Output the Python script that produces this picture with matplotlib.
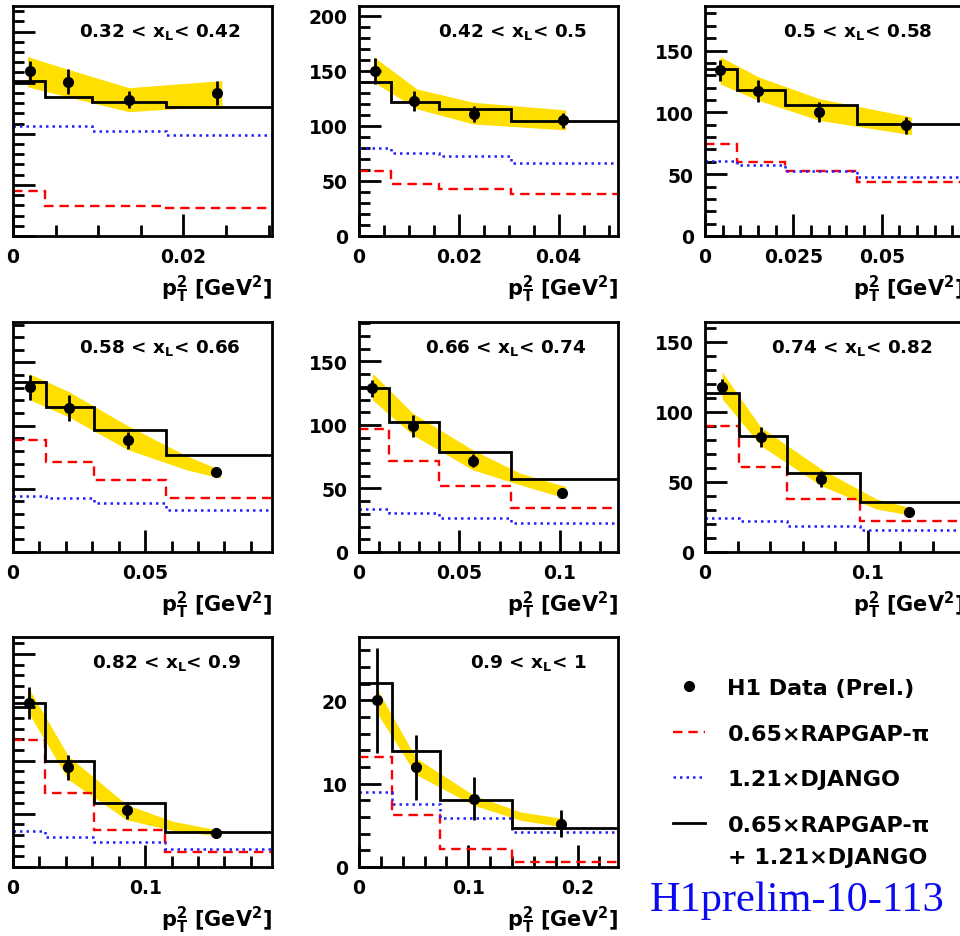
import matplotlib
matplotlib.use("Agg")
import matplotlib.pyplot as plt
from matplotlib.ticker import MultipleLocator, FuncFormatter
from matplotlib.lines import Line2D

plt.rcParams['font.family'] = ['DejaVu Sans']
plt.rcParams['font.weight'] = 'bold'
plt.rcParams['mathtext.default'] = 'bf'

# x_L bins, one panel each
xl_labels = ['0.32 < x$_\\mathbf{L}$< 0.42', '0.42 < x$_\\mathbf{L}$< 0.5', '0.5 < x$_\\mathbf{L}$< 0.58',
             '0.58 < x$_\\mathbf{L}$< 0.66', '0.66 < x$_\\mathbf{L}$< 0.74', '0.74 < x$_\\mathbf{L}$< 0.82',
             '0.82 < x$_\\mathbf{L}$< 0.9', '0.9 < x$_\\mathbf{L}$< 1']

# H1 data points
data_x = [[0.0020, 0.0065, 0.0136, 0.0240],
          [0.0032, 0.0111, 0.0231, 0.0408],
          [0.0043, 0.0151, 0.0324, 0.0570],
          [0.0064, 0.0210, 0.0434, 0.0769],
          [0.0067, 0.0268, 0.0567, 0.1010],
          [0.0105, 0.0342, 0.0712, 0.1251],
          [0.0124, 0.0419, 0.0861, 0.1538],
          [0.0164, 0.0521, 0.1052, 0.1845]]
data_y = [[161.8, 151.0, 133.3, 140.2],
          [150.0, 122.6, 111.0, 105.0],
          [134.0, 117.0, 100.3, 89.5],
          [130.4, 114.0, 88.4, 63.2],
          [128.9, 99.2, 71.9, 46.2],
          [118.0, 81.9, 52.1, 28.8],
          [153.8, 93.7, 53.1, 32.4],
          [20.0, 12.0, 8.2, 5.2]]
data_err = [[9.8, 12.3, 8.4, 11.8],
            [11.5, 9.0, 7.0, 7.0],
            [8.5, 9.0, 8.1, 6.8],
            [10.0, 10.6, 6.6, 2.0],
            [6.8, 8.4, 5.3, 2.0],
            [5.4, 7.1, 5.4, 1.5],
            [15.0, 11.8, 7.9, 2.0],
            [6.3, 3.9, 2.6, 1.6]]

# yellow systematic band
band_x = [[0.0017, 0.0065, 0.0136, 0.0245],
          [0.0029, 0.0116, 0.0229, 0.0414],
          [0.0043, 0.0151, 0.0324, 0.0584],
          [0.0062, 0.0210, 0.0434, 0.0657, 0.0784],
          [0.0067, 0.0268, 0.0567, 0.0803, 0.1030],
          [0.0105, 0.0342, 0.0712, 0.1051, 0.1278],
          [0.0116, 0.0419, 0.0861, 0.1215, 0.1550],
          [0.0164, 0.0521, 0.1052, 0.1480, 0.1876]]
band_hi = [[175.5, 163.0, 145.1, 152.0],
           [163.0, 133.6, 121.5, 114.5],
           [145.0, 128.7, 111.0, 96.3],
           [141.0, 127.0, 100.0, 76.0, 65.0],
           [140.7, 109.2, 80.3, 62.0, 51.4],
           [128.4, 89.0, 59.3, 37.9, 31.2],
           [168.6, 104.1, 58.5, 42.7, 34.9],
           [21.4, 13.1, 8.6, 6.6, 5.8]]
band_lo = [[146.0, 136.0, 121.6, 127.5],
           [140.0, 115.5, 101.8, 96.4],
           [123.0, 109.7, 93.5, 81.9],
           [120.6, 107.0, 81.0, 65.0, 58.5],
           [119.7, 92.1, 64.6, 52.8, 42.3],
           [109.3, 75.9, 47.4, 30.7, 25.9],
           [145.0, 82.1, 44.3, 34.2, 29.2],
           [18.5, 11.1, 7.4, 5.6, 4.8]]

# MC histograms
bin_edges = [[0, 0.0038, 0.0093, 0.0179, 0.031],
             [0, 0.0064, 0.0161, 0.0305, 0.053],
             [0, 0.0090, 0.0227, 0.0429, 0.075],
             [0, 0.0124, 0.0308, 0.0578, 0.10],
             [0, 0.0150, 0.0396, 0.0758, 0.13],
             [0, 0.0208, 0.0506, 0.0949, 0.16],
             [0, 0.0242, 0.0616, 0.1152, 0.20],
             [0, 0.0306, 0.0739, 0.1397, 0.24]]
rapgap = [[44.1, 29.4, 29.4, 27.5],
          [58.8, 47.3, 42.7, 38.2],
          [74.6, 59.8, 52.5, 44.0],
          [88.9, 70.9, 57.1, 42.6],
          [96.6, 71.7, 52.2, 34.4],
          [89.8, 60.5, 37.9, 21.9],
          [119.2, 69.5, 34.9, 14.4],
          [13.2, 6.3, 2.2, 0.6]]
django = [[107.4, 107.4, 102.5, 98.5],
          [79.7, 75.5, 72.4, 66.4],
          [60.6, 57.8, 52.5, 47.6],
          [44.7, 43.1, 38.6, 33.1],
          [33.6, 30.4, 26.5, 22.6],
          [24.3, 21.9, 18.8, 15.7],
          [34.2, 28.6, 23.3, 17.0],
          [9.0, 7.6, 5.9, 4.2]]
total = [[151.5, 135.8, 131.0, 126.0],
         [139.7, 121.5, 115.5, 104.3],
         [135.0, 117.8, 105.7, 90.8],
         [134.4, 114.8, 96.8, 76.5],
         [129.4, 102.1, 79.0, 57.2],
         [113.4, 82.4, 56.2, 35.9],
         [154.4, 99.3, 60.1, 33.3],
         [22.1, 13.9, 8.0, 4.7]]

# axis ranges and tick spacing
x_max = [0.0304, 0.0519, 0.0733, 0.098, 0.129, 0.159, 0.196, 0.237]
y_max = [225, 209, 186, 182, 181, 164, 216, 27.6]
x_major = [0.02, 0.02, 0.025, 0.05, 0.05, 0.1, 0.1, 0.1]
x_minor = [0.005, 0.005, 0.005, 0.01, 0.01, 0.02, 0.02, 0.02]
y_major = [50, 50, 50, 50, 50, 50, 50, 10]
y_minor = [10, 10, 10, 10, 10, 10, 10, 2]

W, H = 960, 937
fig = plt.figure(figsize=(W / 100, H / 100), dpi=100)

col_left = [13, 359, 705]
row_top = [7, 323, 638]
pw, ph = 259, 230

fmt = FuncFormatter(lambda v, p: f'{v:g}')
red_ls = (0, (4, 2.5))
blue_ls = (0, (1, 1.6))
band_col = '#ffdf00'

for i in range(8):
    r, c = divmod(i, 3)
    ax = fig.add_axes([col_left[c] / W, 1 - (row_top[r] + ph) / H, pw / W, ph / H])

    ax.fill_between(band_x[i], band_lo[i], band_hi[i], color=band_col, lw=0, zorder=1)
    ax.stairs(rapgap[i], bin_edges[i], baseline=None, color='red', lw=1.7, ls=red_ls, zorder=2)
    ax.stairs(django[i], bin_edges[i], baseline=None, color='#2020ff', lw=1.8, ls=blue_ls, zorder=2)
    ax.stairs(total[i], bin_edges[i], baseline=None, color='black', lw=2, zorder=3)
    ax.errorbar(data_x[i], data_y[i], yerr=data_err[i], fmt='o', color='black',
                ms=7, elinewidth=2, capsize=0, zorder=5)

    ax.set_xlim(0, x_max[i])
    ax.set_ylim(0, y_max[i])
    ax.xaxis.set_major_locator(MultipleLocator(x_major[i]))
    ax.xaxis.set_minor_locator(MultipleLocator(x_minor[i]))
    ax.yaxis.set_major_locator(MultipleLocator(y_major[i]))
    ax.yaxis.set_minor_locator(MultipleLocator(y_minor[i]))
    ax.xaxis.set_major_formatter(fmt)
    ax.yaxis.set_major_formatter(fmt)
    ax.tick_params(which='both', direction='in', top=False, right=False, width=2)
    ax.tick_params(which='major', length=16, labelsize=13.5, pad=8)
    ax.tick_params(which='minor', length=8)
    # left column: the y labels sit outside the cropped picture
    if c == 0:
        ax.tick_params(axis='y', labelleft=False)
    for lab in ax.get_xticklabels() + ax.get_yticklabels():
        lab.set_fontweight('bold')
    for s in ax.spines.values():
        s.set_linewidth(2)

    ax.text(0.88, 0.89, xl_labels[i], transform=ax.transAxes, ha='right', va='center',
            fontsize=13.2, fontweight='bold')
    ax.text(1.0, -0.23, r'p$_\mathbf{T}^\mathbf{2}$ [GeV$^\mathbf{2}$]', transform=ax.transAxes,
            ha='right', va='center', fontsize=15, fontweight='bold')

# legend
handles = [Line2D([], [], marker='o', ls='none', color='black', ms=7),
           Line2D([], [], color='red', lw=1.7, ls=red_ls),
           Line2D([], [], color='#2020ff', lw=1.8, ls=blue_ls),
           Line2D([], [], color='black', lw=2)]
labels = ['H1 Data (Prel.)', '0.65\u00d7RAPGAP-\u03c0', '1.21\u00d7DJANGO',
          '0.65\u00d7RAPGAP-\u03c0']
leg = fig.legend(handles, labels, loc='upper left', bbox_to_anchor=(673 / W, 1 - 679 / H),
                 frameon=False, fontsize=16, handlelength=1.45, handletextpad=1.0,
                 labelspacing=1.15, borderpad=0, borderaxespad=0)
for t in leg.get_texts():
    t.set_fontweight('bold')
fig.text(728 / W, 1 - 858 / H, '+ 1.21\u00d7DJANGO', ha='left', va='center',
         fontsize=16, fontweight='bold')

fig.text(797 / W, 1 - 901 / H, 'H1prelim-10-113', ha='center', va='center',
         fontsize=30.5, family='Liberation Serif', fontweight='normal', color='#0a0af0')

fig.savefig('out.png', dpi=100)
